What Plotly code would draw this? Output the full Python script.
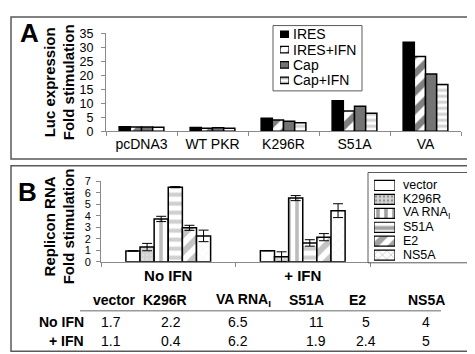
import plotly.graph_objects as go

W, H = 475, 354


def px(x):
    return x / W


def py(y):
    return 1 - y / H


FONT = "Liberation Sans, Arial, Helvetica, sans-serif"

# ---------------- Panel A data ----------------
a_categories = ["pcDNA3", "WT PKR", "K296R", "S51A", "VA"]
a_series = ["IRES", "IRES+IFN", "Cap", "Cap+IFN"]
a_ires = [1.6, 1.3, 4.6, 10.9, 31.8]
a_ires_ifn = [1.5, 1.1, 4.0, 7.2, 26.7]
a_cap = [1.5, 1.2, 3.6, 8.9, 20.4]
a_cap_ifn = [1.4, 1.1, 3.0, 6.4, 16.7]
a_yticks = [0, 5, 10, 15, 20, 25, 30, 35]

# ---------------- Panel B data ----------------
b_groups = ["No IFN", "+ IFN"]
b_series = ["vector", "K296R", "VA RNA<sub>I</sub>", "S51A", "E2", "NS5A"]
b_no_ifn = [0.95, 1.28, 3.72, 6.48, 2.95, 2.25]
b_ifn = [0.97, 0.45, 5.53, 1.64, 2.14, 4.44]
b_err_no_ifn = [0.0, 0.32, 0.23, 0.05, 0.22, 0.50]
b_err_ifn = [0.0, 0.42, 0.22, 0.28, 0.31, 0.60]
b_yticks = [0, 1, 2, 3, 4, 5, 6, 7]

# ---------------- Table data ----------------
table_cols = ["vector", "K296R", "VA RNA<sub>I</sub>", "S51A", "E2", "NS5A"]
table_rows = ["No IFN", "+ IFN"]
table_no_ifn = ["1.7", "2.2", "6.5", "11", "5", "4"]
table_ifn = ["1.1", "0.4", "6.2", "1.9", "2.4", "5"]

# ---------------- styles ----------------
a_styles = [
    dict(color="black", pattern=dict(shape="")),
    dict(color="white", pattern=dict(shape="/", fgcolor="black", bgcolor="white", size=13, solidity=0.5)),
    dict(color="#747474", pattern=dict(shape="")),
    dict(color="white", pattern=dict(shape="-", fgcolor="#a4a4a4", bgcolor="white", size=6, solidity=0.5)),
]
b_styles = [
    dict(color="white", pattern=dict(shape="")),
    dict(color="#d4d4d4", pattern=dict(shape=".", fgcolor="#eeeeee", bgcolor="#d2d2d2", size=4, solidity=0.25)),
    dict(color="white", pattern=dict(shape="|", fgcolor="#7a7a7a", bgcolor="white", size=8, solidity=0.45)),
    dict(color="white", pattern=dict(shape="-", fgcolor="#a0a0a0", bgcolor="white", size=9, solidity=0.45)),
    dict(color="white", pattern=dict(shape="/", fgcolor="#8a8a8a", bgcolor="white", size=12, solidity=0.5)),
    dict(color="white", pattern=dict(shape="x", fgcolor="#dddddd", bgcolor="white", size=6, solidity=0.15)),
]

fig = go.Figure()

a_values = [a_ires, a_ires_ifn, a_cap, a_cap_ifn]
for name, vals, st in zip(a_series, a_values, a_styles):
    fig.add_trace(go.Bar(
        x=a_categories, y=vals, name=name, xaxis="x", yaxis="y",
        marker=dict(color=st["color"], pattern=st["pattern"], line=dict(color="black", width=1.5)),
        showlegend=False,
    ))

for i, (name, st) in enumerate(zip(b_series, b_styles)):
    fig.add_trace(go.Bar(
        x=b_groups, y=[b_no_ifn[i], b_ifn[i]], name=name, xaxis="x2", yaxis="y2",
        marker=dict(color=st["color"], pattern=st["pattern"], line=dict(color="black", width=1.5)),
        error_y=dict(type="data", array=[b_err_no_ifn[i], b_err_ifn[i]], color="black", thickness=1, width=5),
        showlegend=False,
    ))


def legend_trace(names, styles, xa, ya, width):
    return go.Bar(
        x=[1] * len(names), y=list(range(len(names))), orientation="h", base=0,
        xaxis=xa, yaxis=ya, width=width, showlegend=False, hoverinfo="skip",
        marker=dict(
            color=[s["color"] for s in styles],
            pattern=dict(
                shape=[s["pattern"].get("shape", "") for s in styles],
                fgcolor=[s["pattern"].get("fgcolor", "black") for s in styles],
                bgcolor=[s["pattern"].get("bgcolor", s["color"]) for s in styles],
                size=[s["pattern"].get("size", 8) for s in styles],
                solidity=[s["pattern"].get("solidity", 0.3) for s in styles],
            ),
            line=dict(color="black", width=1.2),
        ),
    )


fig.add_trace(legend_trace(a_series, a_styles, "x3", "y3", 0.42))
fig.add_trace(legend_trace(b_series, b_styles, "x4", "y4", 0.72))

axis_common = dict(showgrid=False, zeroline=False, showline=True, linecolor="#8a8a8a", linewidth=1,
                   ticks="outside", tickcolor="#8a8a8a", ticklen=4,
                   tickfont=dict(family=FONT, size=14, color="black"))

hidden = dict(visible=False, fixedrange=True)

fig.update_layout(
    width=W, height=H, margin=dict(l=0, r=0, t=0, b=0),
    paper_bgcolor="white", plot_bgcolor="white",
    barmode="group", bargap=0.37, bargroupgap=0,
    showlegend=False,
    font=dict(family=FONT, color="black"),
    xaxis=dict(domain=[px(98), px(453)], anchor="y", tickson="boundaries", **axis_common),
    yaxis=dict(domain=[py(121), py(19)], anchor="x", range=[0, 35], tickvals=a_yticks,
               ticklabelstandoff=5, **{**axis_common, "tickfont": dict(family=FONT, size=12.5, color="black")}),
    xaxis2=dict(domain=[px(93), px(362)], anchor="y2", tickson="boundaries",
                **{**axis_common, "tickfont": dict(family=FONT, size=15, color="black", weight="bold")}),
    yaxis2=dict(domain=[py(257), py(173)], anchor="x2", range=[0, 7], tickvals=b_yticks,
                ticklabelstandoff=3, **{**axis_common, "tickfont": dict(family=FONT, size=11, color="black")}),
    xaxis3=dict(domain=[px(272), px(281)], anchor="y3", range=[0, 1], **hidden),
    yaxis3=dict(domain=[py(76), py(12)], anchor="x3", range=[len(a_series) - 0.5, -0.5], **hidden),
    xaxis4=dict(domain=[px(366), px(387)], anchor="y4", range=[0, 1], **hidden),
    yaxis4=dict(domain=[py(257.25), py(170.25)], anchor="x4", range=[len(b_series) - 0.5, -0.5], **hidden),
)

shapes = [
    # panel frames
    dict(type="rect", xref="paper", yref="paper", x0=px(3), x1=px(471), y0=py(150), y1=py(2),
         line=dict(color="#5a5a5a", width=1.5)),
    dict(type="rect", xref="paper", yref="paper", x0=px(3), x1=px(471), y0=py(350), y1=py(157),
         line=dict(color="#5a5a5a", width=1.5)),
    # legend boxes
    dict(type="rect", xref="paper", yref="paper", x0=px(265), x1=px(354), y0=py(79), y1=py(11),
         line=dict(color="#5a5a5a", width=1)),
    dict(type="rect", xref="paper", yref="paper", x0=px(360), x1=px(466), y0=py(258), y1=py(164),
         line=dict(color="#5a5a5a", width=1)),
    # table header rule
    dict(type="line", xref="paper", yref="paper", x0=px(72), x1=px(433), y0=py(308), y1=py(308),
         line=dict(color="#9a9a9a", width=1.5)),
]

ann = []
# panel letters
ann.append(dict(text="<b>A</b>", x=px(21), y=py(19), xref="paper", yref="paper", showarrow=False,
                font=dict(size=26, family=FONT), xanchor="center", yanchor="middle"))
ann.append(dict(text="<b>B</b>", x=px(19), y=py(184), xref="paper", yref="paper", showarrow=False,
                font=dict(size=26, family=FONT), xanchor="center", yanchor="middle"))
# y titles
ann.append(dict(text="<b>Luc expression<br>Fold stimulation</b>", x=px(51), y=py(70), xref="paper", yref="paper",
                showarrow=False, textangle=-90, font=dict(size=15, family=FONT), xanchor="center", yanchor="middle"))
ann.append(dict(text="<b>Replicon RNA<br>Fold stimulation</b>", x=px(51), y=py(220), xref="paper", yref="paper",
                showarrow=False, textangle=-90, font=dict(size=15, family=FONT), xanchor="center", yanchor="middle"))
# legend texts
for i, name in enumerate(a_series):
    ann.append(dict(text=name, x=px(283), y=i, xref="paper", yref="y3", showarrow=False,
                    xanchor="left", yanchor="middle", font=dict(size=14, family=FONT)))
for i, name in enumerate(b_series):
    ann.append(dict(text=name, x=px(393), y=i, xref="paper", yref="y4", showarrow=False,
                    xanchor="left", yanchor="middle", font=dict(size=12.5, family=FONT)))
# table
header_x = [106, 157, 235, 298, 349, 418]
value_x = [103, 163, 230, 308, 358, 418]
for c, hx in zip(table_cols, header_x):
    ann.append(dict(text="<b>" + c + "</b>", x=px(hx), y=py(297), xref="paper", yref="paper", showarrow=False,
                    xanchor="center", yanchor="middle", font=dict(size=14, family=FONT)))
row_y = [320, 339]
for r, ry, vals in zip(table_rows, row_y, [table_no_ifn, table_ifn]):
    ann.append(dict(text="<b>" + r + "</b>", x=px(78), y=py(ry), xref="paper", yref="paper", showarrow=False,
                    xanchor="right", yanchor="middle", font=dict(size=14, family=FONT)))
    for v, vx in zip(vals, value_x):
        ann.append(dict(text=v, x=px(vx), y=py(ry), xref="paper", yref="paper", showarrow=False,
                        xanchor="center", yanchor="middle", font=dict(size=14, family=FONT)))

fig.update_layout(shapes=shapes, annotations=ann)

fig.write_html("out.html")
